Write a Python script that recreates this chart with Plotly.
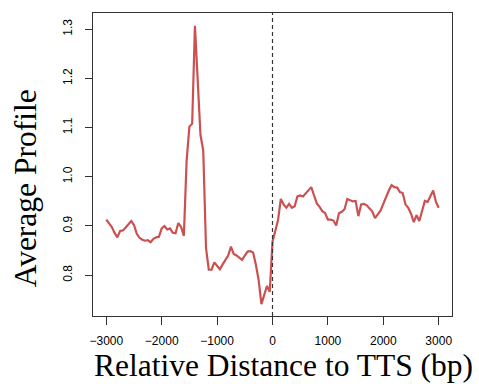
import plotly.graph_objects as go

positions = list(range(-3000, 3001, 50))
profile = [
    0.913, 0.905, 0.898, 0.886, 0.877, 0.890, 0.891, 0.897, 0.904, 0.910,
    0.902, 0.884, 0.876, 0.872, 0.870, 0.871, 0.867, 0.874, 0.877, 0.878,
    0.895, 0.900, 0.893, 0.895, 0.886, 0.885, 0.906, 0.898, 0.880, 1.033,
    1.102, 1.108, 1.307, 1.190, 1.085, 1.053, 0.855, 0.811, 0.811, 0.826,
    0.818, 0.812, 0.822, 0.830, 0.840, 0.858, 0.843, 0.840, 0.835, 0.831,
    0.840, 0.848, 0.849, 0.846, 0.821, 0.790, 0.741, 0.762, 0.778, 0.766,
    0.868, 0.890, 0.912, 0.955, 0.944, 0.937, 0.945, 0.937, 0.940, 0.960,
    0.962, 0.960, 0.966, 0.972, 0.979, 0.962, 0.946, 0.939, 0.930, 0.926,
    0.913, 0.913, 0.911, 0.901, 0.926, 0.929, 0.934, 0.955, 0.952, 0.950,
    0.951, 0.920, 0.944, 0.945, 0.942, 0.937, 0.930, 0.916, 0.924, 0.931,
    0.945, 0.960, 0.972, 0.983, 0.979, 0.978, 0.969, 0.967, 0.944, 0.937,
    0.925, 0.908, 0.922, 0.910, 0.930, 0.951, 0.949, 0.959, 0.972, 0.949,
    0.937,
]
x_ticks = [-3000, -2000, -1000, 0, 1000, 2000, 3000]
y_ticks = [0.8, 0.9, 1.0, 1.1, 1.2, 1.3]
x_title = "Relative Distance to TTS (bp)"
y_title = "Average Profile"

sans = "Liberation Sans, Arial, sans-serif"
serif = "Liberation Serif, Times New Roman, serif"

fig = go.Figure()
fig.add_trace(go.Scatter(x=positions, y=profile, mode="lines",
                         line=dict(color="#CC5050", width=2.2),
                         hoverinfo="skip", showlegend=False))

fig.add_shape(type="line", x0=0, x1=0, xref="x", y0=0, y1=1, yref="paper",
              line=dict(color="#333333", width=1.2, dash="4px,3px"))

fig.update_layout(
    width=479, height=384,
    margin=dict(l=93, r=27, t=13, b=68),
    paper_bgcolor="white", plot_bgcolor="white",
    xaxis=dict(range=[-3240, 3240], tickvals=x_ticks,
               ticktext=[str(v).replace("-", "\u2212") for v in x_ticks],
               showgrid=False, zeroline=False, showline=True, mirror=True,
               linecolor="#333333", linewidth=1, ticks="outside", ticklen=8,
               tickcolor="#333333", tickfont=dict(family=sans, size=12, color="black"),
               ticklabelstandoff=6),
    yaxis=dict(range=[0.717, 1.333], tickvals=y_ticks,
               ticktext=["0.8", "0.9", "1.0", "1.1", "1.2", "1.3"],
               showgrid=False, zeroline=False, showline=True, mirror=True,
               linecolor="#333333", linewidth=1, ticks="outside", ticklen=7,
               tickcolor="#333333", tickangle=-90,
               tickfont=dict(family=sans, size=12, color="black"),
               ticklabelstandoff=8),
    annotations=[
        dict(text=x_title, x=0.532, xref="paper", y=-0.162, yref="paper",
             xanchor="center", yanchor="middle", showarrow=False,
             font=dict(family=serif, size=31.5, color="black")),
        dict(text=y_title, x=-0.189, xref="paper", y=0.422, yref="paper",
             xanchor="center", yanchor="middle", showarrow=False, textangle=-90,
             font=dict(family=serif, size=31.5, color="black")),
    ],
)

fig.write_html("out.html")
